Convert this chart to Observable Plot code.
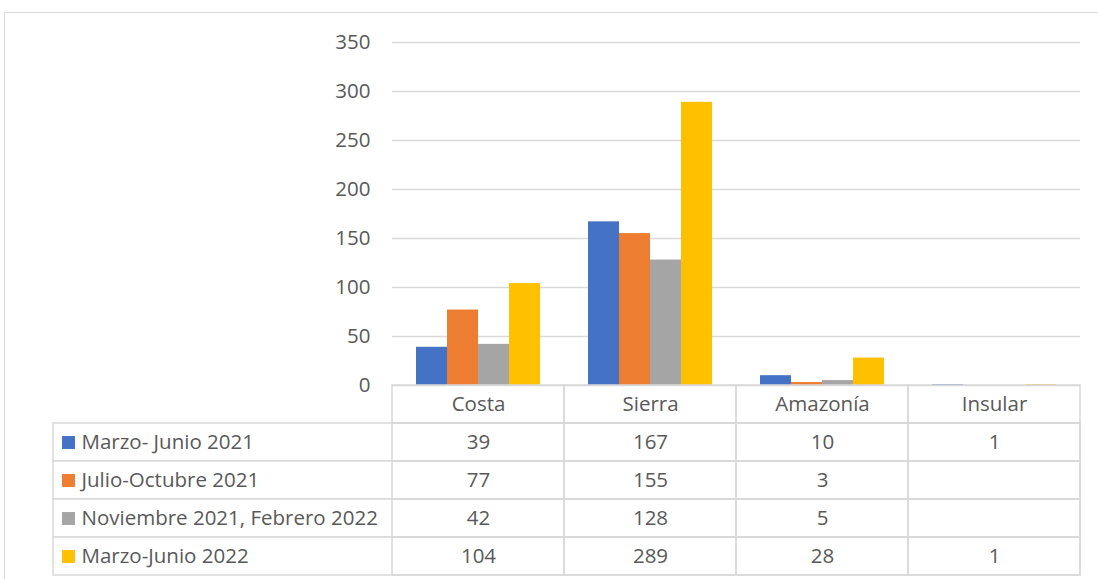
<!DOCTYPE html>
<html>
<head>
<meta charset="utf-8">
<script src="https://cdn.jsdelivr.net/npm/d3@7"></script>
<script src="https://cdn.jsdelivr.net/npm/@observablehq/plot@0.6"></script>
<style>
  html, body { margin: 0; padding: 0; background: #fff; overflow: hidden; }
  #wrap { position: relative; width: 1098px; height: 579px; overflow: hidden; }
  #frame { position: absolute; left: 4px; top: 12px; width: 1200px; height: 700px; border: 1px solid #d9d9d9; box-sizing: border-box; }
  #wrap svg { position: absolute; left: 0; top: 0; }
</style>
</head>
<body>
<div id="wrap"><div id="frame"></div></div>
<script>
const categories = ["Costa", "Sierra", "Amazonía", "Insular"];
const seriesNames = ["Marzo- Junio 2021", "Julio-Octubre 2021", "Noviembre 2021, Febrero 2022", "Marzo-Junio 2022"];
const seriesColors = ["#4472C4", "#ED7D31", "#A5A5A5", "#FFC000"];
const marzoJunio2021 = [39, 167, 10, 1];
const julioOctubre2021 = [77, 155, 3, null];
const noviembreFebrero = [42, 128, 5, null];
const marzoJunio2022 = [104, 289, 28, 1];
const yTicks = [0, 50, 100, 150, 200, 250, 300, 350];

const seriesValues = [marzoJunio2021, julioOctubre2021, noviembreFebrero, marzoJunio2022];
const rows = [];
seriesNames.forEach((s, i) => categories.forEach((c, j) => rows.push({series: s, category: c, value: seriesValues[i][j]})));

const FONT = "'Open Sans', sans-serif";
const FS = 20.5;
const TXT = "#595959";
const GRID = "#d9d9d9";

const chart = Plot.plot({
  width: 1098,
  height: 579,
  marginTop: 42,
  marginBottom: 194,
  marginLeft: 392,
  marginRight: 18,
  style: {fontFamily: FONT, fontSize: FS + "px", color: TXT, background: "transparent"},
  fx: {domain: categories, padding: 0, axis: null},
  x: {domain: seriesNames, paddingInner: 0, paddingOuter: 0.75, axis: null},
  y: {domain: [0, 350], ticks: yTicks, axis: null},
  color: {domain: seriesNames, range: seriesColors},
  marks: [
    Plot.gridY(yTicks, {stroke: GRID, strokeOpacity: 1, strokeWidth: 1.3}),
    Plot.axisY({ticks: yTicks, facetAnchor: "left", tickSize: 0, tickPadding: 22, fontSize: FS, fill: TXT, label: null}),
    Plot.barY(rows.filter(d => d.value != null), {fx: "category", x: "series", y: "value", fill: "series"})
  ]
});

const rowDomain = ["header", ...seriesNames];
const cellGrid = [];
rowDomain.forEach(r => categories.forEach(c => cellGrid.push({row: r, category: c})));

const table = Plot.plot({
  width: 1098,
  height: 579,
  marginTop: 385,
  marginBottom: 4,
  marginLeft: 392,
  marginRight: 18,
  style: {fontFamily: FONT, fontSize: FS + "px", color: TXT, background: "transparent"},
  x: {domain: categories, padding: 0, axis: null},
  y: {domain: rowDomain, padding: 0, axis: null},
  color: {domain: seriesNames, range: seriesColors},
  marks: [
    Plot.cell(seriesNames, {y: d => d, fill: "white", stroke: GRID, strokeWidth: 1.5, insetLeft: -339}),
    Plot.cell(cellGrid, {x: "category", y: "row", fill: "none", stroke: GRID, strokeWidth: 1.5}),
    Plot.text(categories, {x: d => d, y: () => "header", fill: TXT, fontSize: FS}),
    Plot.text(rows.filter(d => d.value != null), {x: "category", y: "series", text: d => String(d.value), fill: TXT, fontSize: FS}),
    Plot.dot(seriesNames, {y: d => d, frameAnchor: "left", dx: -324, symbol: "square", r: 7.3, fill: d => d, stroke: null}),
    Plot.text(seriesNames, {y: d => d, frameAnchor: "left", dx: -311, textAnchor: "start", fill: TXT, fontSize: FS})
  ]
});

const wrap = document.getElementById("wrap");
wrap.appendChild(chart);
wrap.appendChild(table);
</script>
</body>
</html>
